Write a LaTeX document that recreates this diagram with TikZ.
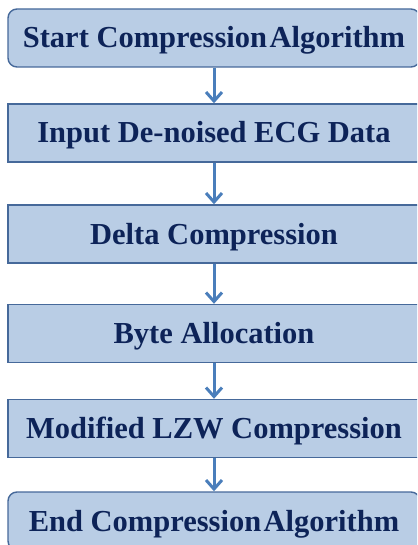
\documentclass[tikz,border=0pt]{standalone}
\usepackage{fontspec}
\setmainfont{Liberation Serif}
\usetikzlibrary{arrows.meta}
\definecolor{boxfill}{HTML}{B9CDE5}
\definecolor{boxdraw}{HTML}{46699A}
\definecolor{txt}{HTML}{0D2358}
\definecolor{arr}{HTML}{4A7EBB}
\tikzset{
  stepbox/.style={draw=boxdraw, line width=1.4pt, fill=boxfill, minimum width=412pt, minimum height=58pt,
    text=txt, font=\fontsize{30.5}{32}\selectfont\bfseries, inner sep=0pt, text height=20pt, text depth=0pt},
  roundbox/.style={stepbox, rounded corners=9pt},
  flow/.style={draw=arr, line width=3pt, -{Straight Barb[length=9pt,width=16pt,line width=3pt]}}
}
\begin{document}
\begin{tikzpicture}[x=1pt,y=1pt]
\useasboundingbox (0,0) rectangle (417,-545);
\clip (0,0) rectangle (417,-545);
\node[roundbox] (s) at (214,-38) {Start Compression\hspace{0.08em}Algorithm};
\node[stepbox] (i) at (214,-133) {Input De-noised ECG Data};
\node[stepbox] (d) at (214,-234) {Delta Compression};
\node[stepbox] (b) at (214,-333.5) {Byte Allocation};
\node[stepbox] (m) at (214,-428.5) {Modified LZW Compression};
\node[roundbox] (e) at (214,-521) {End Compression\hspace{0.08em}Algorithm};
\draw[flow] (s) -- (i);
\draw[flow] (i) -- (d);
\draw[flow] (d) -- (b);
\draw[flow] (b) -- (m);
\draw[flow] (m) -- (e);
\end{tikzpicture}
\end{document}
